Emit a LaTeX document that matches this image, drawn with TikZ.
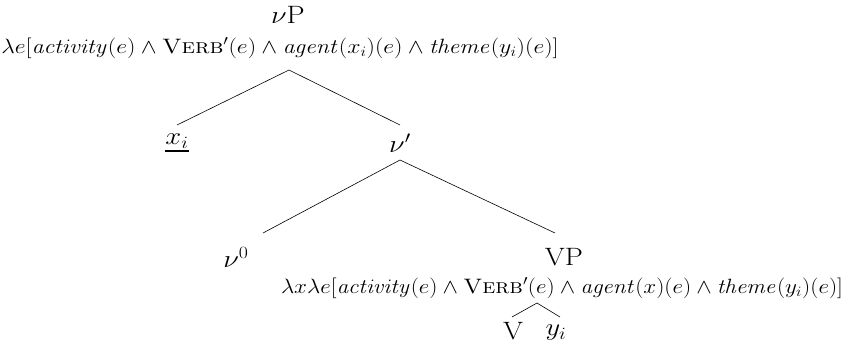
\documentclass[tikz,border=0pt]{standalone}
\usepackage{graphicx}
\newcommand\widetext[2][1.15]{\scalebox{#1}[1]{#2}}
\begin{document}
\begin{tikzpicture}[x=1bp,y=-1bp,
  lab/.style={inner sep=0pt,font=\fontsize{25.2}{30}\selectfont},
  sem/.style={inner sep=0pt,font=\fontsize{21}{25}\selectfont},
  branch/.style={draw=black,line width=0.6pt}]
\useasboundingbox (0,0) rectangle (851,350);
\node[lab] (vP) at (288,15) {\widetext{$\nu$P}};
\node[sem] (vPsem) at (280,48) {\widetext{$\lambda e[\mathit{activity}(e)\wedge\textsc{Verb}'(e)\wedge\mathit{agent}(x_i)(e)\wedge\mathit{theme}(y_i)(e)]$}};
\coordinate (a1) at (289,70);
\node[lab] (xi) at (177,143) {\widetext{\vtop{\hbox{$x_i$}\kern1.2pt\hrule height 2.5pt}}};
\node[lab] (vbar) at (400,143) {\widetext{$\nu'$}};
\coordinate (xiT) at (177,125);
\coordinate (vbarT) at (400,125);
\coordinate (a2) at (400,160);
\node[lab] (v0) at (236,257) {\widetext{$\nu^0$}};
\node[lab] (VP) at (564,257) {\widetext{VP}};
\coordinate (v0T) at (263,233);
\coordinate (VPT) at (555,233);
\node[sem] (VPsem) at (562,288) {\widetext[1.118]{$\lambda x\lambda e[\mathit{activity}(e)\wedge\textsc{Verb}'(e)\wedge\mathit{agent}(x)(e)\wedge\mathit{theme}(y_i)(e)]$}};
\coordinate (a3) at (537,303);
\node[lab] (V) at (513,331) {\widetext{V}};
\node[lab] (yi) at (556,333) {\widetext{$y_i$}};
\coordinate (VT) at (512,317);
\coordinate (yiT) at (560,317);
\draw[branch] (a1) -- (xiT);
\draw[branch] (a1) -- (vbarT);
\draw[branch] (a2) -- (v0T);
\draw[branch] (a2) -- (VPT);
\draw[branch] (a3) -- (VT);
\draw[branch] (a3) -- (yiT);
\end{tikzpicture}
\end{document}
